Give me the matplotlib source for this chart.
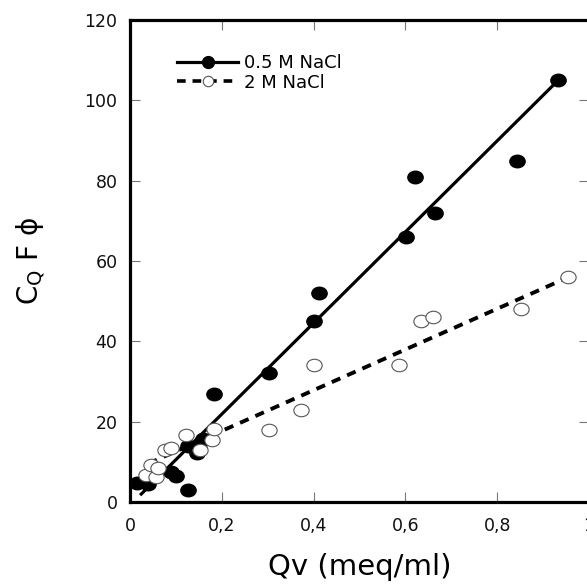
import matplotlib
matplotlib.use('Agg')
import matplotlib.pyplot as plt
import numpy as np
from matplotlib.path import Path
from matplotlib.transforms import Affine2D

plt.rcParams['font.family'] = ['DejaVu Sans']

# 0.5 M NaCl (filled)
qv_05 = [0.015, 0.04, 0.09, 0.10, 0.127, 0.127, 0.145, 0.15, 0.16, 0.182,
         0.302, 0.401, 0.412, 0.602, 0.622, 0.664, 0.843, 0.933]
cqf_05 = [4.8, 4.6, 7.5, 6.5, 3.0, 14.0, 12.2, 13.5, 15.8, 27.0,
          32.0, 45.0, 52.0, 66.0, 81.0, 72.0, 85.0, 105.0]

# 2 M NaCl (open)
qv_2 = [0.035, 0.046, 0.057, 0.061, 0.077, 0.09, 0.123, 0.153, 0.178, 0.182,
        0.302, 0.372, 0.401, 0.587, 0.635, 0.66, 0.852, 0.955]
cqf_2 = [6.7, 9.2, 6.2, 8.5, 13.0, 13.4, 16.7, 13.0, 15.4, 18.2,
         18.0, 23.0, 34.0, 34.0, 45.0, 46.0, 48.0, 56.0]

# regression lines (slope, intercept, x range)
fit_05 = (113.4, -0.8, 0.022, 0.933)
fit_2 = (50.7, 7.55, 0.04, 0.955)

x_ticks = [0, 0.2, 0.4, 0.6, 0.8, 1.0]
x_ticklabels = ['0', '0,2', '0,4', '0,6', '0,8', '1']
y_ticks = [0, 20, 40, 60, 80, 100, 120]

# slightly wide ellipse marker
circ = Path.unit_circle()
ell = Affine2D().scale(1.22, 1.0).transform_path(circ)

fig = plt.figure(figsize=(5.87, 5.85), dpi=100)
ax = fig.add_axes([130 / 587, 1 - 502 / 585, 459 / 587, 482 / 585])

xs = np.array(fit_05[2:])
ax.plot(xs, fit_05[0] * xs + fit_05[1], color='black', lw=2.3,
        solid_capstyle='butt', zorder=2)
xs2 = np.array(fit_2[2:])
ax.plot(xs2, fit_2[0] * xs2 + fit_2[1], color='black', lw=2.8,
        dashes=(2.4, 1.9), dash_capstyle='butt', zorder=2)

ax.plot(qv_05, cqf_05, ls='none', marker=ell, ms=11, mfc='black',
        mec='black', zorder=3)
ax.plot(qv_2, cqf_2, ls='none', marker=ell, ms=11, mfc='white',
        mec='#555555', mew=0.8, zorder=4)

# legend proxies
h1, = ax.plot([], [], color='black', lw=2.3, marker='o', ms=8.5,
              mfc='black', mec='black')
h2, = ax.plot([], [], color='black', lw=2.6, dashes=(2.4, 1.9),
              marker='o', ms=7.5, mfc='white', mec='#555555', mew=0.8)
ax.legend([h1, h2], ['0.5 M NaCl', '2 M NaCl'], loc='upper left',
          bbox_to_anchor=(0.075, 0.955), frameon=False, fontsize=13,
          handlelength=3.4, handletextpad=0.3, labelspacing=0.08,
          borderpad=0.2)

ax.set_xlim(0, 1)
ax.set_ylim(0, 120)
ax.set_xticks(x_ticks)
ax.set_xticklabels(x_ticklabels)
ax.set_yticks(y_ticks)

for s in ax.spines.values():
    s.set_linewidth(2.3)
ax.tick_params(direction='in', length=7, width=0.8, color='#777777',
               top=True, right=True, labelsize=12.5, labelcolor='#111111')
ax.tick_params(axis='x', pad=11)
ax.tick_params(axis='y', pad=9)

ax.set_xlabel('Qv (meq/ml)', fontsize=21, labelpad=13)
ax.set_ylabel(r'C$_\mathregular{Q}$ F ϕ', fontsize=20, labelpad=27)

fig.savefig('out.png', dpi=100)
